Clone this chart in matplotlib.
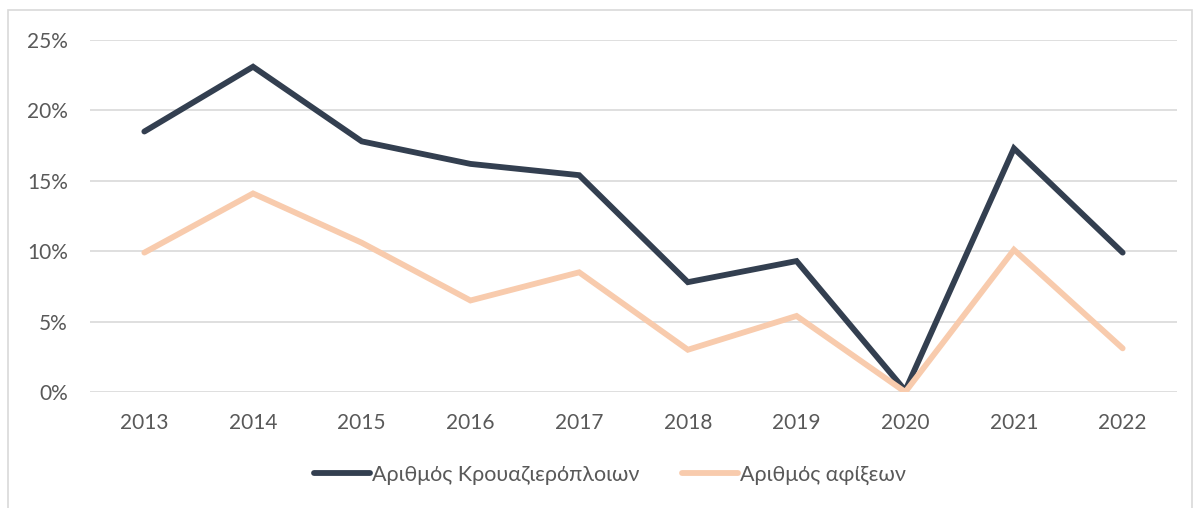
import numpy as np
import matplotlib.pyplot as plt
import matplotlib.patches as patches
from matplotlib.ticker import FuncFormatter

years = ['2013', '2014', '2015', '2016', '2017', '2018', '2019', '2020', '2021', '2022']
cruise_ships = [0.185, 0.231, 0.178, 0.162, 0.154, 0.078, 0.093, 0.001, 0.173, 0.099]
arrivals = [0.099, 0.141, 0.106, 0.065, 0.085, 0.030, 0.054, 0.000, 0.101, 0.031]
labels = ['Αριθμός Κρουαζιερόπλοιων', 'Αριθμός αφίξεων']

plt.rcParams['font.family'] = ['Lato', 'DejaVu Sans']
grey = '#595959'

fig = plt.figure(figsize=(11.94, 5.08), dpi=100)
ax = fig.add_axes([90 / 1194, 1 - 392 / 508, (1177 - 90) / 1194, (392 - 40) / 508])

# outer chart frame
fig.patches.append(patches.Rectangle((8 / 1194, -0.01), (1192 - 8) / 1194, 1 - 10 / 508 + 0.01,
                                     transform=fig.transFigure, fill=False,
                                     edgecolor='#D9D9D9', linewidth=1.2))

x = np.arange(len(years))
ax.plot(x, cruise_ships, color='#333F50', linewidth=4.2, solid_joinstyle='miter',
        solid_capstyle='round', label=labels[0], zorder=3)
ax.plot(x, arrivals, color='#F8CBAD', linewidth=4.2, solid_joinstyle='miter',
        solid_capstyle='round', label=labels[1], zorder=3)

ax.set_xlim(-0.5, len(years) - 0.5)
ax.set_ylim(0, 0.25)
ax.set_yticks(np.arange(0, 0.26, 0.05))
ax.yaxis.set_major_formatter(FuncFormatter(lambda v, p: f'{v * 100:.0f}%'))
ax.set_xticks(x)
ax.set_xticklabels(years)
ax.grid(axis='y', color='#D9D9D9', linewidth=1.2, zorder=0)
for s in ax.spines.values():
    s.set_visible(False)
ax.tick_params(length=0, labelsize=15, colors=grey)
ax.tick_params(axis='x', pad=15)
ax.tick_params(axis='y', pad=16)

leg = fig.legend(loc='center', bbox_to_anchor=(610 / 1194, 1 - 475 / 508), ncol=2,
                 frameon=False, fontsize=15.5, handlelength=2.6, handletextpad=0.1,
                 columnspacing=2.0)
for t in leg.get_texts():
    t.set_color(grey)

fig.savefig('out.png', dpi=100)
